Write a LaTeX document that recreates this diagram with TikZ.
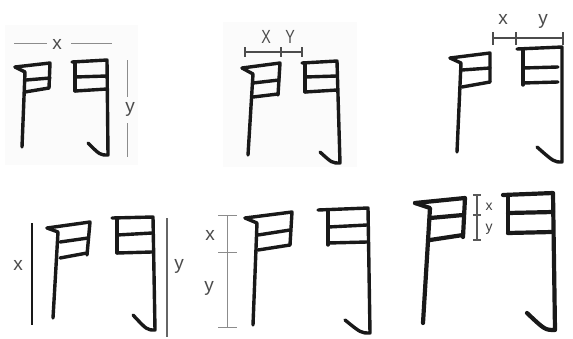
\documentclass[tikz,border=0pt]{standalone}
\usepackage{fontspec}
\setsansfont{Liberation Sans}
\begin{document}
\begin{tikzpicture}[x=1pt, y=-1pt,
    stroke/.style={line width=3.4pt, line cap=round, line join=round, black!90},
    dimline/.style={line width=1pt, black!45},
    lbl/.style={font=\sffamily\fontsize{19}{19}\selectfont, text=black!70, inner sep=0pt},
    lblsmall/.style={font=\sffamily\fontsize{14}{14}\selectfont, text=black!75, inner sep=0pt}
  ]
  \useasboundingbox (0,0) rectangle (573,338);
  \fill[white] (0,0) rectangle (573,338);
  % faint scan boxes
  \fill[black!1.5] (5,25) rectangle (138,165);
  \fill[black!1.5] (223,22) rectangle (357,167);

  % Bild 1: Breite x, Hoehe y
  \draw[stroke] (15,67) -- (50,63) -- (49,88);
  \draw[stroke] (15,67) -- (25,72) -- (22,147);
  \draw[stroke] (26,80) -- (50,78);
  \draw[stroke] (25,92) -- (49,88);
  \draw[stroke] (72,62) -- (107,60) -- (108,155) .. controls (100,155) .. (88,143);
  \draw[stroke] (75,62) -- (75,91);
  \draw[stroke] (75,77) -- (107,76);
  \draw[stroke] (75,91) -- (107,89);
  \draw[dimline] (14,43) -- (47,43);
  \draw[dimline] (71,43) -- (112,43);
  \node[lbl] (p1x) at (57,44) {x};
  \draw[dimline] (127,60) -- (127,97);
  \draw[dimline] (127,123) -- (127,157);
  \node[lbl] (p1y) at (130,109) {y};

  % Bild 2: X und Y oben links
  \draw[stroke] (242,68) -- (280,63) -- (278,95);
  \draw[stroke] (242,68) -- (253,74) -- (248,155);
  \draw[stroke] (253,83) -- (279,80);
  \draw[stroke] (253,97) -- (278,94);
  \draw[stroke] (302,63) -- (337,61) -- (340,163) .. controls (332,163) .. (320,152);
  \draw[stroke] (305,63) -- (305,92);
  \draw[stroke] (305,77) -- (337,76);
  \draw[stroke] (305,92) -- (337,90);
  \draw[dimline, line width=1.3pt, black!70] (245,52) -- (302,52);
  \foreach \tx in {245,281,302}
    \draw[dimline, line width=1.3pt, black!70] (\tx,47) -- (\tx,57);
  \node[lbl, xscale=0.75] (p2x) at (266,37) {X};
  \node[lbl, xscale=0.75] (p2y) at (290,37) {Y};

  % Bild 3: x und y oben rechts
  \draw[stroke] (450,58) -- (490,53) -- (490,82);
  \draw[stroke] (450,58) -- (461,63) -- (457,152);
  \draw[stroke] (462,70) -- (490,68);
  \draw[stroke] (462,87) -- (490,82);
  \draw[stroke] (517,49) -- (562,47) -- (562,162) .. controls (554,162) .. (537,147);
  \draw[stroke] (523,49) -- (523,85);
  \draw[stroke] (523,68) -- (558,67);
  \draw[stroke] (523,83) -- (558,82);
  \draw[dimline, line width=1.3pt, black!70] (493,38) -- (563,38);
  \foreach \tx in {493,516,563}
    \draw[dimline, line width=1.3pt, black!70] (\tx,32) -- (\tx,45);
  \node[lbl] (p3x) at (503,19) {x};
  \node[lbl] (p3y) at (543,21) {y};

  % Bild 4: Hoehen links und rechts
  \draw[stroke] (47,228) -- (90,222) -- (87,255);
  \draw[stroke] (47,228) -- (58,232) -- (53,318);
  \draw[stroke] (60,242) -- (88,238);
  \draw[stroke] (60,258) -- (87,253);
  \draw[stroke] (112,218) -- (153,217) -- (155,330) .. controls (147,330) .. (133,315);
  \draw[stroke] (117,218) -- (117,253);
  \draw[stroke] (117,235) -- (152,233);
  \draw[stroke] (117,253) -- (152,252);
  \draw[line width=2pt, black!90] (32,223) -- (32,325);
  \draw[line width=2.6pt, black!60] (167,218) -- (167,337);
  \node[lbl] (p4x) at (18,265) {x};
  \node[lbl] (p4y) at (179,266) {y};

  % Bild 5: x ueber y links
  \draw[stroke] (245,218) -- (292,212) -- (290,245);
  \draw[stroke] (245,218) -- (257,223) -- (253,325);
  \draw[stroke] (258,235) -- (290,230);
  \draw[stroke] (258,250) -- (290,245);
  \draw[stroke] (318,210) -- (368,208) -- (370,333) .. controls (361,333) .. (345,320);
  \draw[stroke] (328,210) -- (328,245);
  \draw[stroke] (328,227) -- (367,225);
  \draw[stroke] (328,243) -- (367,242);
  \draw[dimline] (227,215) -- (227,327);
  \foreach \ty in {215,252,327}
    \draw[dimline] (218,\ty) -- (237,\ty);
  \node[lbl] (p5x) at (210,235) {x};
  \node[lbl] (p5y) at (209,288) {y};

  % Bild 6: kleine x/y zwischen den Teilen
  \begin{scope}[stroke/.append style={line width=4.2pt}]
    \draw[stroke] (415,203) -- (465,198) -- (463,237);
    \draw[stroke] (415,203) -- (430,208) -- (423,323);
    \draw[stroke] (430,218) -- (463,215);
    \draw[stroke] (430,240) -- (463,235);
    \draw[stroke] (503,195) -- (553,193) -- (555,330) .. controls (545,330) .. (527,313);
    \draw[stroke] (508,195) -- (508,233);
    \draw[stroke] (508,213) -- (553,212);
    \draw[stroke] (508,233) -- (552,232);
  \end{scope}
  \draw[line width=1.6pt, black!65] (477,195) -- (477,240);
  \foreach \ty in {195,215,240}
    \draw[line width=1.3pt, black!65] (473,\ty) -- (481,\ty);
  \node[lblsmall] (p6x) at (489,207) {x};
  \node[lblsmall] (p6y) at (489,229) {y};
\end{tikzpicture}
\end{document}
